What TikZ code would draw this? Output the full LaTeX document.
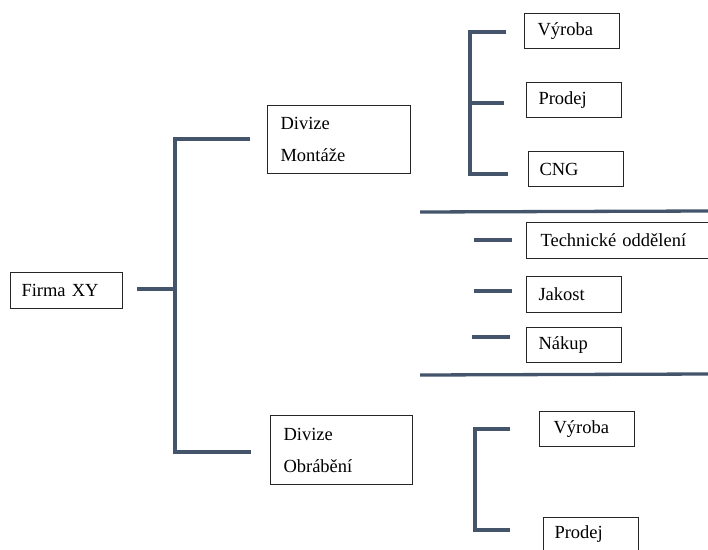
\documentclass[tikz,border=0pt]{standalone}
\usepackage{fontspec}
\setmainfont{Liberation Serif}
\definecolor{linec}{HTML}{44546A}
\begin{document}
\begin{tikzpicture}[x=1pt,y=-1pt,
  conn/.style={draw=linec, line width=3.3pt},
  box/.style={draw=black!85, line width=1pt, anchor=north west, inner ysep=0pt, align=left, font=\rmfamily\fontsize{18.5}{32}\selectfont}]
\useasboundingbox (0,0) rectangle (708,549);
\clip (0,0) rectangle (708,549);
% boxes
\node[box, inner xsep=11pt, text width=90pt, minimum height=36pt] (firma) at (10,272) {Firma XY};
\node[box, inner xsep=13pt, text width=117pt, minimum height=68pt] (divm) at (267,105) {Divize\\Montáže};
\node[box, inner xsep=13pt, text width=116pt, minimum height=69pt] (divo) at (270,415) {Divize\\Obrábění};
\node[box, inner xsep=13pt, text width=69pt, minimum height=35pt] (vyr1) at (524,13) {Výroba};
\node[box, inner xsep=12pt, text width=71pt, minimum height=35pt] (prod1) at (526,82) {Prodej};
\node[box, inner xsep=11pt, text width=73pt, minimum height=35pt] (cng) at (528,151) {CNG};
\node[box, inner xsep=14pt, text width=192pt, minimum height=36pt] (tech) at (526,222) {Technické oddělení};
\node[box, inner xsep=12pt, text width=71pt, minimum height=36pt] (jak) at (526,276) {Jakost};
\node[box, inner xsep=12pt, text width=71pt, minimum height=35pt] (nak) at (526,327) {Nákup};
\node[box, inner xsep=14pt, text width=67pt, minimum height=35pt] (vyr2) at (539,411) {Výroba};
\node[box, inner xsep=11pt, text width=73pt, minimum height=33pt] (prod2) at (543,517) {Prodej};
% connector points
\coordinate (f1) at (137,289);
\coordinate (t0) at (175,289);
\coordinate (tt) at (175,139);
\coordinate (tb) at (175,452);
\coordinate (tm) at (250,139);
\coordinate (to) at (251,452);
\coordinate (u1) at (506,32);
\coordinate (u1c) at (470,32);
\coordinate (u2) at (504,103);
\coordinate (u2c) at (470,103);
\coordinate (u3c) at (470,174);
\coordinate (u3) at (508,174);
\coordinate (s1a) at (420,212);
\coordinate (s1b) at (708,211);
\coordinate (s2a) at (420,375);
\coordinate (s2b) at (708,374);
\coordinate (d1a) at (474,240);
\coordinate (d1b) at (512,240);
\coordinate (d2a) at (474,291);
\coordinate (d2b) at (512,291);
\coordinate (d3a) at (472,337);
\coordinate (d3b) at (510,337);
\coordinate (l1) at (510,429);
\coordinate (l1c) at (475,429);
\coordinate (l2c) at (475,530);
\coordinate (l2) at (510,530);
% connectors
\draw[conn] (f1) -- (t0);
\draw[conn] (tm) -- (tt) -- (tb) -- (to);
\draw[conn] (u1) -- (u1c) -- (u3c) -- (u3);
\draw[conn] (u2c) -- (u2);
\draw[conn] (s1a) -- (s1b);
\draw[conn] (s2a) -- (s2b);
\draw[conn] (d1a) -- (d1b);
\draw[conn] (d2a) -- (d2b);
\draw[conn] (d3a) -- (d3b);
\draw[conn] (l1) -- (l1c) -- (l2c) -- (l2);
\end{tikzpicture}
\end{document}
